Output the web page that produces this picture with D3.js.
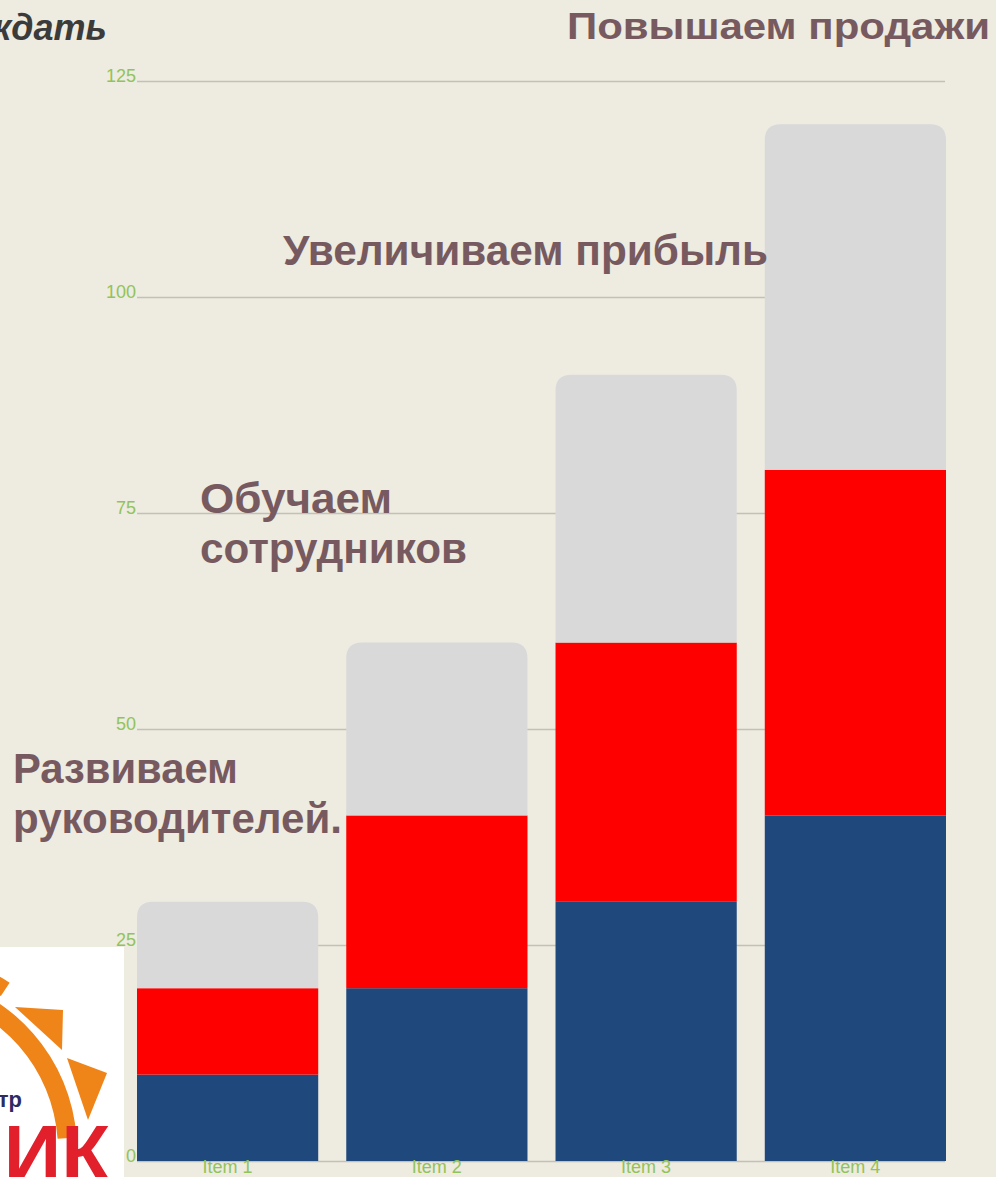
<!DOCTYPE html>
<html>
<head>
<meta charset="utf-8">
<script src="https://cdn.jsdelivr.net/npm/d3@7"></script>
<style>
  html, body { margin: 0; padding: 0; background: #eeebe0; }
  svg { display: block; }
</style>
</head>
<body>
<div id="chart"></div>
<script>
// chart data
const items = ["Item 1", "Item 2", "Item 3", "Item 4"]
const seriesKeys = ["Ряд 1", "Ряд 2", "Ряд 3"]
const series1 = [10, 20, 30, 40]
const series2 = [10, 20, 30, 40]
const series3 = [10, 20, 31, 40]
const yTicks = [0, 25, 50, 75, 100, 125]

// captions on the slide
const captions = [
    { lines: ["Повышаем продажи"], x: 567, y: 39, size: 37, widths: [423] },
    { lines: ["Увеличиваем прибыль"], x: 283, y: 265, size: 43, widths: [485] },
    { lines: ["Обучаем", "сотрудников"], x: 200, y: 513, size: 43, widths: [192, 267] },
    { lines: ["Развиваем", "руководителей."], x: 13, y: 783, size: 42, widths: [225, 329] }
]

const width = 996, height = 1177
const colors = { "Ряд 1": "#1f497d", "Ряд 2": "#ff0000", "Ряд 3": "#d9d9d9" }

let data = items.map((d, i) => ({ item: d, "Ряд 1": series1[i], "Ряд 2": series2[i], "Ряд 3": series3[i] }))

const svg = d3.select("#chart").append("svg")
    .attr("width", width)
    .attr("height", height)
    .style("font-family", "'Liberation Sans', Arial, sans-serif")

svg.append("rect").attr("width", width).attr("height", height).attr("fill", "#eeebe0")

let xScale = d3.scaleBand()
    .domain(items)
    .range([137, 946])
    .paddingInner(0.134)
    .paddingOuter(0)

let yScale = d3.scaleLinear()
    .domain([0, 125])
    .range([1161, 81])

// grid + y labels
const yAxis = svg.append("g")
    .attr("transform", "translate(137,0)")
    .call(d3.axisLeft(yScale).tickValues(yTicks).tickSize(-808).tickPadding(1))
yAxis.select(".domain").remove()
yAxis.selectAll(".tick line").attr("stroke", "#c4c1b4").attr("stroke-width", 1.5)
yAxis.selectAll(".tick text")
    .attr("fill", "#92c35a")
    .attr("font-size", 18)
    .attr("dy", "0.05em")
    .style("font-family", "'Liberation Sans', Arial, sans-serif")

// stacked bars
const stacked = d3.stack().keys(seriesKeys)(data)

function roundTop(x, y0, y1, w, r) {
    r = Math.min(r, (y0 - y1))
    return `M${x},${y0}V${y1 + r}Q${x},${y1} ${x + r},${y1}H${x + w - r}Q${x + w},${y1} ${x + w},${y1 + r}V${y0}Z`
}

stacked.forEach((s, si) => {
    let g = svg.append("g").attr("fill", colors[s.key])
    if (si == stacked.length - 1) {
        g.selectAll("path")
            .data(s)
            .enter()
            .append("path")
            .attr("d", d => roundTop(xScale(d.data.item), yScale(d[0]), yScale(d[1]), xScale.bandwidth(), 16))
    } else {
        g.selectAll("rect")
            .data(s)
            .enter()
            .append("rect")
            .attr("x", d => xScale(d.data.item))
            .attr("y", d => yScale(d[1]))
            .attr("width", xScale.bandwidth())
            .attr("height", d => yScale(d[0]) - yScale(d[1]))
    }
})

// x labels
svg.append("g")
    .selectAll("text")
    .data(items)
    .enter()
    .append("text")
        .attr("x", d => xScale(d) + xScale.bandwidth() / 2)
        .attr("y", 1173)
        .attr("text-anchor", "middle")
        .attr("fill", "#92c35a")
        .attr("font-size", 18)
        .text(d => d)

// captions
captions.forEach(c => {
    c.lines.forEach((line, i) => {
        svg.append("text")
            .attr("x", c.x)
            .attr("y", c.y + i * 50)
            .attr("font-size", c.size)
            .attr("font-weight", "bold")
            .attr("fill", "#775a5f")
            .attr("textLength", c.widths[i])
            .attr("lengthAdjust", "spacingAndGlyphs")
            .text(line)
    })
})

// cut-off title at top-left
svg.append("text")
    .attr("x", 107)
    .attr("y", 40)
    .attr("text-anchor", "end")
    .attr("font-size", 36)
    .attr("font-weight", "bold")
    .attr("font-style", "italic")
    .attr("fill", "#3b3b3b")
    .text("ждать")

// logo fragment in the corner
const logo = svg.append("g")
logo.append("rect").attr("x", 0).attr("y", 947).attr("width", 124).attr("height", 230).attr("fill", "#ffffff")
logo.append("path")
    .attr("transform", "translate(-100,1150)")
    .attr("d", d3.arc()({ innerRadius: 158, outerRadius: 177, startAngle: 0.2, endAngle: 1.5 }))
    .attr("fill", "#ef8418")
logo.append("path")
    .attr("transform", "translate(-100,1150)")
    .attr("d", d3.arc()({ innerRadius: 184, outerRadius: 200, startAngle: 0.3, endAngle: 0.58 }))
    .attr("fill", "#ef8418")
logo.append("polygon").attr("points", "15,1007 63,1010 62,1050").attr("fill", "#ef8418")
logo.append("polygon").attr("points", "67,1058 107,1073 88,1120").attr("fill", "#ef8418")
logo.append("text")
    .attr("x", 22).attr("y", 1107)
    .attr("text-anchor", "end")
    .attr("font-size", 22)
    .attr("font-weight", "bold")
    .attr("fill", "#2d2a64")
    .text("тр")
logo.append("text")
    .attr("x", 110).attr("y", 1181)
    .attr("text-anchor", "end")
    .attr("font-size", 80)
    .attr("font-weight", "bold")
    .attr("fill", "#e2202c")
    .text("ИК")
</script>
</body>
</html>
